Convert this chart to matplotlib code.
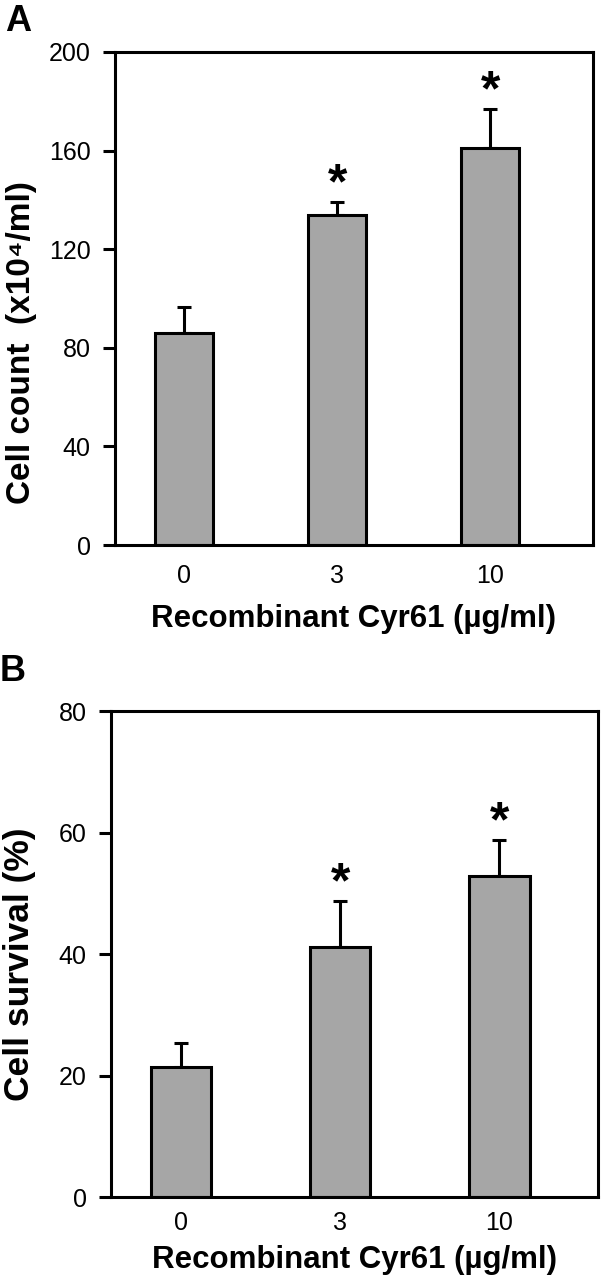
import numpy as np
import matplotlib
matplotlib.use("Agg")
from matplotlib import pyplot as plt

#----------------data-----------------
doses = ["0", "3", "10"]

count_mean = [86, 134, 161]        # cell count (x10^4/ml)
count_err = [10.5, 5, 16]
count_sig = [False, True, True]

surv_mean = [21.4, 41.2, 52.8]     # cell survival (%)
surv_err = [3.9, 7.5, 6.0]
surv_sig = [False, True, True]
#--------------------------------------

plt.rcParams['font.family'] = ['Liberation Sans', 'DejaVu Sans']

fig = plt.figure(figsize=(6.01, 12.8), dpi=100)

bar_color = "#a6a6a6"
lw = 2.2


def panel(ax, means, errs, sig, ymax, step, ylabel, ylsize, xlim, tpad, lpad):
    x = np.arange(len(doses))
    ax.bar(x, means, width=0.38, color=bar_color, edgecolor="black",
           linewidth=lw, zorder=2)
    ax.errorbar(x, means, yerr=[np.zeros(len(errs)), errs], fmt="none",
                ecolor="black", elinewidth=lw, capsize=5, capthick=lw, zorder=1)
    for xi, m, e, s in zip(x, means, errs, sig):
        if s:
            ax.annotate("*", (xi, m + e), xytext=(0, 12), textcoords="offset points",
                        ha="center", va="center", fontsize=36, fontweight="bold")
    ax.set_ylim(0, ymax)
    ax.set_xlim(*xlim)
    ax.set_yticks(np.arange(0, ymax + 1, step))
    ax.set_xticks(x)
    ax.set_xticklabels(doses)
    for sp in ax.spines.values():
        sp.set_linewidth(lw)
    ax.tick_params(axis="y", direction="out", length=8.5, width=lw, labelsize=18, pad=9)
    ax.tick_params(axis="x", length=0, labelsize=18, pad=tpad)
    ax.set_ylabel(ylabel, fontsize=ylsize, fontweight="bold")
    ax.set_xlabel("Recombinant Cyr61 (µg/ml)", fontsize=22.5, fontweight="bold", labelpad=lpad)


# panel A
ax1 = fig.add_axes([0.1913, 0.5742, 0.7953, 0.3852])
panel(ax1, count_mean, count_err, count_sig, 200, 40,
      "Cell count  (x10⁴/ml)", 24, (-0.45, 2.67), 14, 11)
ax1.yaxis.set_label_coords(-0.164, 0.41)
fig.text(0.008, 0.997, "A", fontsize=26, fontweight="bold", va="top", ha="left")

# panel B
ax2 = fig.add_axes([0.1847, 0.0648, 0.8103, 0.3797])
panel(ax2, surv_mean, surv_err, surv_sig, 80, 20,
      "Cell survival (%)", 25.5, (-0.44, 2.62), 10, 7)
ax2.yaxis.set_label_coords(-0.155, 0.48)
fig.text(0.0, 0.489, "B", fontsize=26, fontweight="bold", va="top", ha="left")

fig.savefig("out.png", dpi=100)
